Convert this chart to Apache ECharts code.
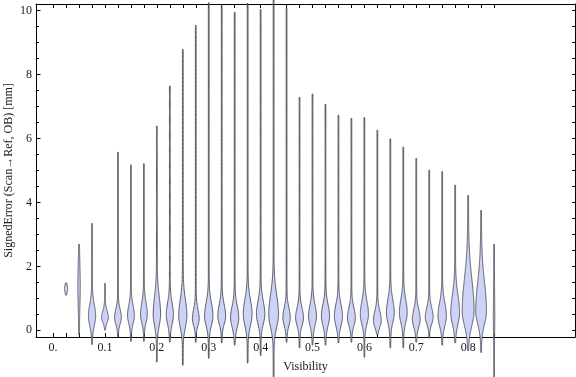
<!DOCTYPE html>
<html>
<head>
<meta charset="utf-8">
<script src="https://cdn.jsdelivr.net/npm/echarts@6/dist/echarts.min.js"></script>
<style>
  html, body { margin: 0; padding: 0; background: #fff; }
  #chart { width: 576px; height: 377px; }
</style>
</head>
<body>
<div id="chart"></div>
<script>
// visibility bins (one violin each)
const visibility = [0.025, 0.05, 0.075, 0.1, 0.125, 0.15, 0.175, 0.2, 0.225, 0.25,
  0.275, 0.3, 0.325, 0.35, 0.375, 0.4, 0.425, 0.45, 0.475, 0.5,
  0.525, 0.55, 0.575, 0.6, 0.625, 0.65, 0.675, 0.7, 0.725, 0.75,
  0.775, 0.8, 0.825, 0.85];
// lowest / highest signed error per bin [mm]
const errMin = [1.1, -0.15, -0.45, 0.0, -0.2, -0.35, -0.35, -1.0, -0.38, -1.1,
  -0.38, -0.88, -0.4, -0.47, -1.03, -0.8, -1.5, -0.38, -0.56, -0.47,
  -0.47, -0.4, -0.38, -0.85, -0.15, -0.56, -0.56, -0.38, -0.25, -0.47,
  -0.4, -0.63, -0.7, -1.5];
const errMax = [1.48, 2.7, 3.35, 1.47, 5.58, 5.18, 5.22, 6.4, 7.65, 8.8,
  9.55, 10.26, 10.19, 9.96, 10.24, 10.05, 10.4, 10.1, 7.3, 7.4,
  7.08, 6.74, 6.64, 6.67, 6.27, 6.0, 5.74, 5.39, 5.02, 4.98,
  4.55, 4.23, 3.76, 2.7];
// where the density peaks, and its spread below / above the peak
const errMode = [1.3, 1.4, 0.45, 0.4, 0.4, 0.47, 0.5, 0.5, 0.5, 0.45,
  0.35, 0.45, 0.45, 0.4, 0.5, 0.5, 0.5, 0.4, 0.4, 0.45,
  0.45, 0.45, 0.4, 0.5, 0.3, 0.55, 0.55, 0.35, 0.4, 0.45,
  0.55, 0.6, 0.6, 0.5];
const spreadLo = [0.1, 0.6, 0.3, 0.15, 0.2, 0.25, 0.25, 0.35, 0.3, 0.35,
  0.2, 0.3, 0.25, 0.3, 0.35, 0.3, 0.4, 0.25, 0.25, 0.3,
  0.3, 0.3, 0.25, 0.3, 0.2, 0.3, 0.3, 0.25, 0.2, 0.3,
  0.35, 0.45, 0.4, 0.5];
const spreadHi = [0.1, 0.6, 0.35, 0.2, 0.25, 0.3, 0.35, 0.55, 0.35, 0.5,
  0.3, 0.4, 0.35, 0.35, 0.45, 0.4, 0.6, 0.3, 0.3, 0.35,
  0.35, 0.35, 0.3, 0.4, 0.3, 0.4, 0.4, 0.3, 0.3, 0.4,
  0.55, 1.0, 0.9, 0.5];
// relative peak density (1 = typical bin)
const density = [0.3, 0.2, 0.8, 0.75, 0.75, 0.75, 0.75, 0.82, 0.8, 0.92,
  0.75, 0.95, 0.88, 0.92, 1.0, 0.95, 1.12, 0.82, 0.88, 0.88,
  0.92, 0.92, 0.88, 0.92, 0.88, 0.88, 0.88, 0.88, 0.88, 0.95,
  1.0, 1.38, 1.25, 0.08];

const xLabelVals = [0, 0.1, 0.2, 0.3, 0.4, 0.5, 0.6, 0.7, 0.8];
const xTickVals = [0].concat(visibility);
const yLabelVals = [0, 2, 4, 6, 8, 10];
const yTickVals = [];
for (let i = 0; i <= 20; i++) yTickVals.push(i / 2);

const violinData = visibility.map((v, i) =>
  [v, errMin[i], errMax[i], errMode[i], spreadLo[i], spreadHi[i], density[i]]);

const font = '"Liberation Serif", "DejaVu Serif", serif';
const labelColor = '#1a1a1a';

function renderViolin(params, api) {
  const x = api.value(0), lo = api.value(1), hi = api.value(2);
  const m = api.value(3), sl = api.value(4), sh = api.value(5), pk = api.value(6);
  const cx = api.coord([x, 0])[0];
  const n = 240;
  const right = [], left = [];
  for (let i = 0; i <= n; i++) {
    const y = lo + (hi - lo) * i / n;
    const s = y < m ? sl : sh;
    let w = 0.4 + pk * 4 * Math.exp(-0.5 * ((y - m) / s) * ((y - m) / s));
    if (i === 0 || i === n) w = 0;
    const py = api.coord([x, y])[1];
    right.push([cx + w, py]);
    left.unshift([cx - w, py]);
  }
  return {
    type: 'polygon',
    shape: { points: right.concat(left) },
    style: { fill: '#ccd3f6', stroke: 'rgba(55,55,60,0.78)', lineWidth: 1 }
  };
}

const frameLine = { onZero: false, lineStyle: { color: '#000', width: 1 } };

const chart = echarts.init(document.getElementById('chart'));
chart.setOption({
  animation: false,
  grid: { left: 36, right: 1, top: 4, bottom: 40, containLabel: false, outerBoundsMode: 'none' },
  xAxis: [
    {
      type: 'value', position: 'bottom', min: -0.033, max: 1.006,
      name: 'Visibility', nameLocation: 'middle', nameGap: 24, nameMoveOverlap: false,
      nameTextStyle: { fontFamily: font, fontSize: 12, color: labelColor },
      axisLine: frameLine,
      axisTick: { inside: true, length: 4, customValues: xTickVals, lineStyle: { color: '#000' } },
      axisLabel: {
        customValues: xLabelVals, margin: 5,
        fontFamily: font, fontSize: 12, color: labelColor,
        formatter: v => (v === 0 ? '0.' : v.toFixed(1))
      },
      splitLine: { show: false }
    },
    {
      type: 'value', position: 'top', min: -0.033, max: 1.006,
      axisLine: frameLine,
      axisTick: { inside: true, length: 4, customValues: xTickVals, lineStyle: { color: '#000' } },
      axisLabel: { show: false },
      splitLine: { show: false }
    }
  ],
  yAxis: [
    {
      type: 'value', position: 'left', min: -0.21, max: 10.21,
      name: 'SignedError (Scan\u2192Ref, OB) [mm]', nameLocation: 'middle', nameGap: 21,
      nameMoveOverlap: false,
      nameTextStyle: { fontFamily: font, fontSize: 12, color: labelColor },
      axisLine: Object.assign({ show: true }, frameLine),
      axisTick: { show: true, inside: true, length: 3, customValues: yTickVals, lineStyle: { color: '#000' } },
      axisLabel: { customValues: yLabelVals, margin: 4, fontFamily: font, fontSize: 12, color: labelColor },
      splitLine: { show: false }
    },
    {
      type: 'value', position: 'right', min: -0.21, max: 10.21,
      axisLine: Object.assign({ show: true }, frameLine),
      axisTick: { show: true, inside: true, length: 3, customValues: yTickVals, lineStyle: { color: '#000' } },
      axisLabel: { show: false },
      splitLine: { show: false }
    },
    {
      type: 'value', position: 'left', min: -0.21, max: 10.21,
      axisLine: { show: false, onZero: false },
      axisTick: { show: true, inside: true, length: 4.5, customValues: yLabelVals, lineStyle: { color: '#000' } },
      axisLabel: { show: false },
      splitLine: { show: false }
    }
  ],
  series: [
    {
      type: 'custom',
      xAxisIndex: 0,
      yAxisIndex: 0,
      clip: false,
      renderItem: renderViolin,
      encode: { x: 0, y: [1, 2] },
      data: violinData
    }
  ]
});
</script>
</body>
</html>
